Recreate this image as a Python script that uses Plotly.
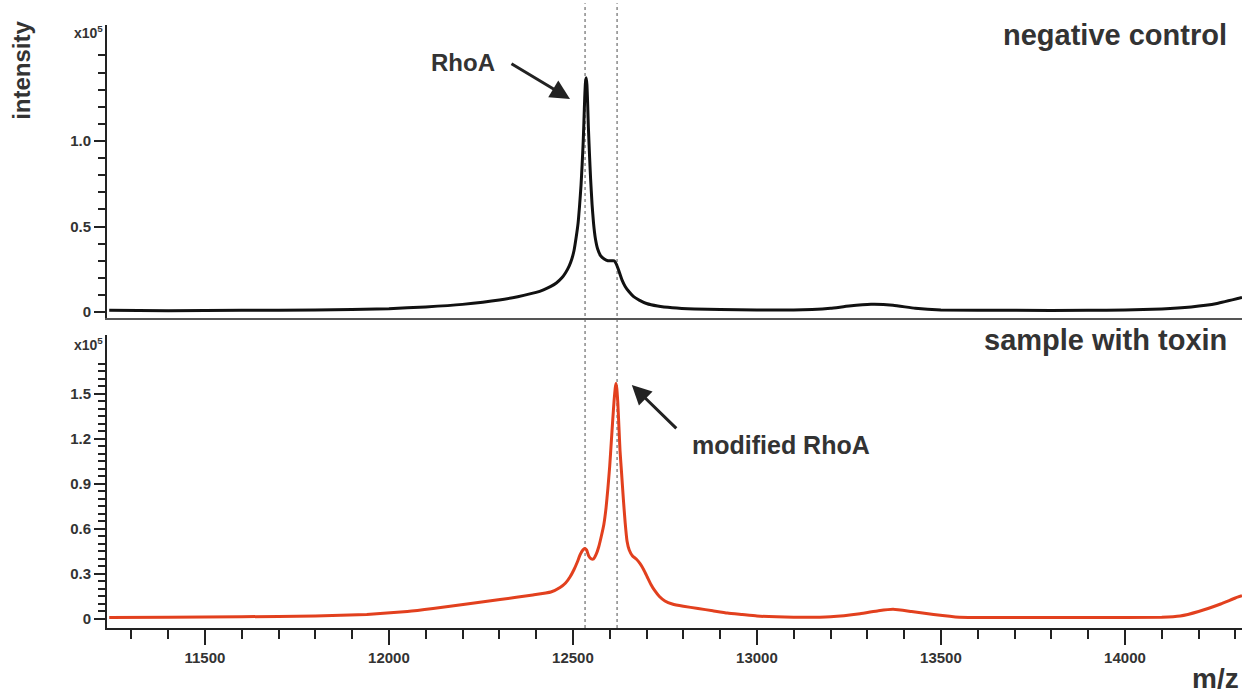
import plotly.graph_objects as go

# ---- data (intensity in units of 1e5) ----
mz_control = [11240, 11400, 11600, 11800, 12000, 12100, 12200, 12300, 12350, 12400,
              12420, 12440, 12455, 12470, 12480, 12490, 12497, 12503, 12509, 12514,
              12518, 12522, 12525, 12528, 12530, 12532, 12534, 12536, 12538, 12540,
              12542, 12545, 12548, 12552, 12556, 12561, 12567, 12575, 12585, 12595,
              12605, 12612, 12618, 12625, 12633, 12642, 12652, 12665, 12680, 12700,
              12730, 12770, 12830, 12900, 13000, 13100, 13150, 13200, 13250, 13310,
              13370, 13430, 13500, 13700, 13900, 14000, 14100, 14180, 14250, 14318]
int_control = [0.010, 0.008, 0.010, 0.012, 0.020, 0.030, 0.045, 0.070, 0.090, 0.115,
               0.130, 0.150, 0.170, 0.200, 0.230, 0.270, 0.310, 0.360, 0.440, 0.520,
               0.620, 0.740, 0.860, 1.000, 1.120, 1.250, 1.340, 1.370, 1.330, 1.220,
               1.080, 0.920, 0.780, 0.630, 0.520, 0.430, 0.370, 0.330, 0.310, 0.300,
               0.300, 0.300, 0.280, 0.240, 0.190, 0.150, 0.120, 0.090, 0.070, 0.050,
               0.035, 0.025, 0.018, 0.015, 0.012, 0.012, 0.015, 0.022, 0.035, 0.045,
               0.040, 0.022, 0.012, 0.010, 0.010, 0.012, 0.018, 0.030, 0.050, 0.085]

mz_toxin = [11240, 11400, 11600, 11800, 11940, 12050, 12120, 12212, 12302, 12391,
            12440, 12465, 12480, 12492, 12503, 12512, 12520, 12527, 12532, 12537,
            12543, 12550, 12556, 12563, 12570, 12577, 12584, 12590, 12595, 12600,
            12604, 12608, 12612, 12615, 12617, 12619, 12622, 12625, 12628, 12632,
            12637, 12642, 12647, 12653, 12662, 12672, 12682, 12692, 12702, 12712,
            12722, 12735, 12750, 12770, 12800, 12840, 12880, 12920, 12960, 13000,
            13100, 13200, 13280, 13330, 13370, 13420, 13480, 13550, 13700, 13900,
            14100, 14150, 14200, 14260, 14300, 14318]
int_toxin = [0.010, 0.012, 0.015, 0.020, 0.030, 0.050, 0.070, 0.100, 0.130, 0.160,
             0.180, 0.210, 0.240, 0.280, 0.330, 0.380, 0.430, 0.460, 0.470, 0.460,
             0.420, 0.400, 0.400, 0.430, 0.480, 0.550, 0.630, 0.740, 0.870, 1.020,
             1.170, 1.320, 1.460, 1.540, 1.570, 1.540, 1.440, 1.280, 1.120, 0.980,
             0.800, 0.640, 0.520, 0.460, 0.420, 0.400, 0.370, 0.330, 0.280, 0.230,
             0.190, 0.150, 0.120, 0.100, 0.085, 0.070, 0.055, 0.040, 0.030, 0.020,
             0.012, 0.015, 0.035, 0.055, 0.065, 0.050, 0.030, 0.012, 0.010, 0.010,
             0.012, 0.020, 0.050, 0.100, 0.140, 0.155]

rhoa_mz = 12533
modified_mz = 12620

x_major = [11500, 12000, 12500, 13000, 13500, 14000]
x_minor = [v for v in range(11300, 14301, 100) if v not in x_major]
top_major = [0, 0.5, 1.0]
top_major_text = ["0", "0.5", "1.0"]
top_minor = [round(0.1 * i, 2) for i in range(1, 16) if i not in (5, 10)]
bot_major = [0, 0.3, 0.6, 0.9, 1.2, 1.5]
bot_major_text = ["0", "0.3", "0.6", "0.9", "1.2", "1.5"]
bot_minor = [round(0.05 * i, 2) for i in range(1, 35) if i % 6 != 0]

FONT = "Liberation Sans, Arial, sans-serif"
TXT = "#333333"
RED = "#e2401e"
XR = [11234, 14318]

fig = go.Figure()
fig.add_trace(go.Scatter(x=mz_control, y=int_control, mode="lines",
                         line=dict(color="#111111", width=3, shape="spline", smoothing=0.4),
                         xaxis="x2", yaxis="y2", showlegend=False))
fig.add_trace(go.Scatter(x=mz_toxin, y=int_toxin, mode="lines",
                         line=dict(color=RED, width=3, shape="spline", smoothing=0.4),
                         xaxis="x", yaxis="y", showlegend=False))

tickfont = dict(family=FONT, size=15, color=TXT, weight="bold")

fig.update_layout(
    width=1250, height=693,
    margin=dict(l=107, r=8, t=25, b=65),
    paper_bgcolor="white", plot_bgcolor="white",
    xaxis=dict(domain=[0, 1], range=XR, anchor="y",
               tickmode="array", tickvals=x_major, ticktext=[str(v) for v in x_major],
               ticks="outside", ticklen=15, tickwidth=2, tickcolor="#222",
               minor=dict(tickmode="array", tickvals=x_minor, ticks="outside",
                          ticklen=9, tickwidth=2, tickcolor="#222"),
               showline=True, linecolor="#222", linewidth=2, showgrid=False,
               zeroline=False, tickfont=tickfont),
    yaxis=dict(domain=[0, 0.486], range=[-0.06, 1.893], anchor="x",
               tickmode="array", tickvals=bot_major, ticktext=bot_major_text,
               ticks="outside", ticklen=11, tickwidth=2, tickcolor="#222",
               minor=dict(tickmode="array", tickvals=bot_minor, ticks="outside",
                          ticklen=7, tickwidth=2, tickcolor="#222"),
               showline=True, linecolor="#222", linewidth=2, showgrid=False,
               zeroline=False, tickfont=tickfont),
    xaxis2=dict(domain=[0, 1], range=XR, anchor="y2", matches="x",
                showticklabels=False, ticks="",
                showline=True, linecolor="#555", linewidth=1.5, showgrid=False,
                zeroline=False),
    yaxis2=dict(domain=[0.514, 1], range=[-0.035, 1.678], anchor="x2",
                tickmode="array", tickvals=top_major, ticktext=top_major_text,
                ticks="outside", ticklen=11, tickwidth=2, tickcolor="#222",
                minor=dict(tickmode="array", tickvals=top_minor, ticks="outside",
                           ticklen=7, tickwidth=2, tickcolor="#222"),
                showline=True, linecolor="#222", linewidth=2, showgrid=False,
                zeroline=False, tickfont=tickfont),
)

# dotted guide lines through both panels
for xv in (rhoa_mz, modified_mz):
    fig.add_shape(type="line", xref="x", yref="paper", x0=xv, x1=xv, y0=0, y1=1.036,
                  line=dict(color="#8a8a8a", width=1.5, dash="dot"), layer="below")

anns = []
# titles
anns.append(dict(text="<b>negative control</b>", xref="x2", yref="y2", x=14282, y=1.62,
                 xanchor="right", yanchor="middle", showarrow=False,
                 font=dict(family=FONT, size=29, color=TXT)))
anns.append(dict(text="<b>sample with toxin</b>", xref="x", yref="y", x=14282, y=1.86,
                 xanchor="right", yanchor="middle", showarrow=False,
                 font=dict(family=FONT, size=29, color=TXT)))
# axis titles
anns.append(dict(text="<b>intensity</b>", xref="paper", yref="y2", x=-0.075, y=1.415,
                 xanchor="center", yanchor="middle", textangle=-90, showarrow=False,
                 font=dict(family=FONT, size=24, color=TXT)))
anns.append(dict(text="<b>m/z</b>", xref="paper", yref="paper", x=0.977, y=-0.083,
                 xanchor="center", yanchor="middle", showarrow=False,
                 font=dict(family=FONT, size=28, color=TXT)))
# x10^5 labels
anns.append(dict(text="<b>x10<sup>5</sup></b>", xref="paper", yref="y2", x=-0.002, y=1.64,
                 xanchor="right", yanchor="middle", showarrow=False,
                 font=dict(family=FONT, size=14, color=TXT)))
anns.append(dict(text="<b>x10<sup>5</sup></b>", xref="paper", yref="y", x=-0.002, y=1.83,
                 xanchor="right", yanchor="middle", showarrow=False,
                 font=dict(family=FONT, size=14, color=TXT)))
# peak labels
anns.append(dict(text="<b>RhoA</b>", xref="x2", yref="y2", x=12201, y=1.456,
                 xanchor="center", yanchor="middle", showarrow=False,
                 font=dict(family=FONT, size=24, color=TXT)))
anns.append(dict(text="", xref="x2", yref="y2", x=12492, y=1.246, ax=-60, ay=-36,
                 showarrow=True, arrowhead=2, arrowsize=1.3, arrowwidth=3,
                 arrowcolor="#222", standoff=0))
anns.append(dict(text="<b>modified RhoA</b>", xref="x", yref="y", x=13065, y=1.16,
                 xanchor="center", yanchor="middle", showarrow=False,
                 font=dict(family=FONT, size=25, color=TXT)))
anns.append(dict(text="", xref="x", yref="y", x=12660, y=1.56, ax=46, ay=45,
                 showarrow=True, arrowhead=2, arrowsize=1.3, arrowwidth=3,
                 arrowcolor="#222", standoff=0))
fig.update_layout(annotations=anns)

fig.write_html("out.html", config={"displayModeBar": False},
               post_script="document.body.style.margin='0';")
